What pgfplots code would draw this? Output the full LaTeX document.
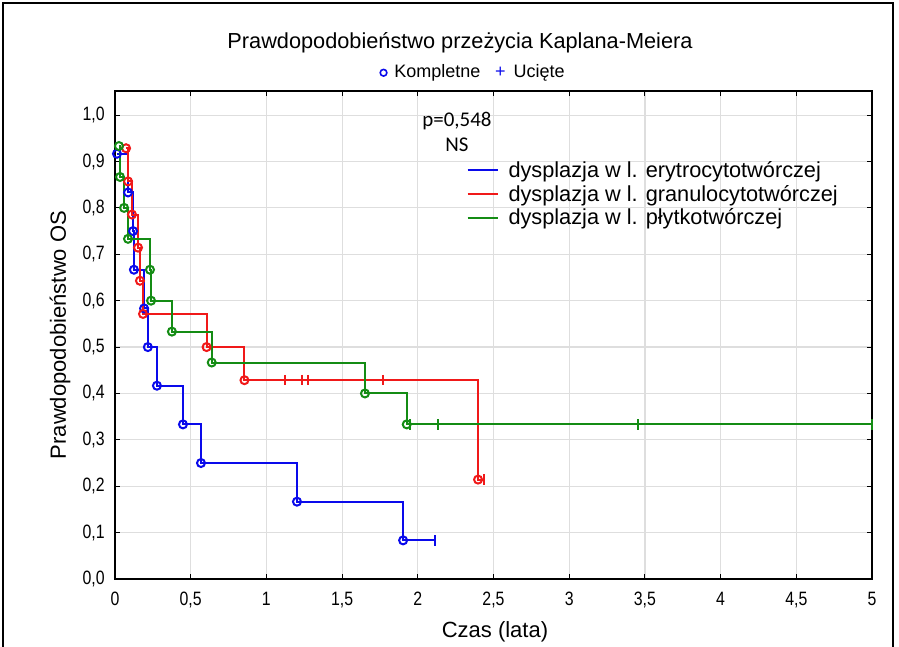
\documentclass[border=0pt]{standalone}
\usepackage{fontspec}
\setmainfont{Liberation Sans}
\newfontfamily\narrowfont[FakeStretch=0.82]{Liberation Sans}
\newfontfamily\calfont{Carlito}
\usepackage{pgfplots}
\pgfplotsset{compat=1.18}
\usepackage{pgfplotstable}

\definecolor{kmblue}{RGB}{10,10,235}
\definecolor{kmred}{RGB}{240,25,25}
\definecolor{kmgreen}{RGB}{20,140,20}

% Kaplan-Meier steps: time (years), survival
\pgfplotstableread{
t s
0.013 0.9167
0.086 0.8333
0.119 0.7500
0.125 0.6667
0.192 0.5833
0.217 0.5000
0.277 0.4167
0.449 0.3333
0.568 0.2500
1.202 0.1667
1.903 0.0833
2.114 0.0833
}\erytro
\pgfplotstableread{
t s
0.013 0.9167
0.086 0.8333
0.119 0.7500
0.125 0.6667
0.192 0.5833
0.217 0.5000
0.277 0.4167
0.449 0.3333
0.568 0.2500
1.202 0.1667
1.903 0.0833
}\erytroEv
\pgfplotstableread{
t s
2.114 0.0833
}\erytroCens

\pgfplotstableread{
t s
0.073 0.9286
0.086 0.8571
0.112 0.7857
0.152 0.7143
0.165 0.6429
0.185 0.5714
0.605 0.5000
0.855 0.4286
2.398 0.2143
2.440 0.2143
}\granulo
\pgfplotstableread{
t s
0.073 0.9286
0.086 0.8571
0.112 0.7857
0.152 0.7143
0.165 0.6429
0.185 0.5714
0.605 0.5000
0.855 0.4286
2.398 0.2143
}\granuloEv
\pgfplotstableread{
t s
1.123 0.4286
1.233 0.4286
1.277 0.4286
1.772 0.4286
2.440 0.2143
}\granuloCens

\pgfplotstableread{
t s
0.026 0.9333
0.033 0.8667
0.060 0.8000
0.086 0.7333
0.231 0.6667
0.238 0.6000
0.376 0.5333
0.639 0.4667
1.651 0.4000
1.927 0.3333
5.000 0.3333
}\plytko
\pgfplotstableread{
t s
0.026 0.9333
0.033 0.8667
0.060 0.8000
0.086 0.7333
0.231 0.6667
0.238 0.6000
0.376 0.5333
0.639 0.4667
1.651 0.4000
1.927 0.3333
}\plytkoEv
\pgfplotstableread{
t s
1.948 0.3333
2.131 0.3333
3.454 0.3333
5.000 0.3333
}\plytkoCens

\begin{document}
\begin{tikzpicture}
\useasboundingbox (0,0) rectangle (674.25pt,484.5pt);
% outer frame
\draw[line width=1pt] (2.25pt,-5pt) -- (2.25pt,482.25pt) -- (669.75pt,482.25pt) -- (669.75pt,-5pt);

\node[font=\fontsize{16.3}{19}\selectfont] at (345pt,452.25pt) {Prawdopodobieństwo przeżycia Kaplana-Meiera};
\node[font=\fontsize{13.5}{16}\selectfont] at (354pt,429.5pt)
  {\textcolor{kmblue}{\tikz[baseline=-0.55ex]\draw[line width=1.2pt] (0,0) circle (2.5pt);}\hspace{5pt}Kompletne\hspace{11pt}\textcolor{kmblue}{+}\hspace{6pt}Ucięte};

\node[font=\fontsize{16.5}{19}\selectfont] at (371.25pt,10.5pt) {Czas (lata)};
\node[font=\fontsize{16.5}{19}\selectfont, rotate=90] at (45pt,233.25pt) {Prawdopodobieństwo OS};

\begin{axis}[
  at={(86.25pt,50.25pt)}, anchor=south west,
  width=567.75pt, height=366pt, scale only axis,
  xmin=0, xmax=5, ymin=0, ymax=1.052,
  xtick={0,0.5,1,1.5,2,2.5,3,3.5,4,4.5,5},
  xticklabels={0,{0,5},1,{1,5},2,{2,5},3,{3,5},4,{4,5},5},
  ytick={0,0.1,0.2,0.3,0.4,0.5,0.6,0.7,0.8,0.9,1.0},
  yticklabels={{0,0},{0,1},{0,2},{0,3},{0,4},{0,5},{0,6},{0,7},{0,8},{0,9},{1,0}},
  xtick pos=both, ytick pos=both,
  xticklabel pos=lower, yticklabel pos=left,
  tick align=inside, major tick length=3.5pt,
  tick style={black, line width=0.8pt},
  grid=major, major grid style={black!13, line width=0.9pt},
  axis line style={line width=0.9pt},
  ticklabel style={font=\narrowfont\fontsize{14.5}{17}\selectfont},
  xticklabel style={yshift=-6pt},
  yticklabel style={xshift=-4.2pt},
  clip=false,
  legend style={at={(axis cs:2.32,0.905)}, anchor=north west, draw=none, fill=none,
    font=\fontsize{16.3}{18}\selectfont, row sep=1.2pt, column sep=6pt, inner sep=0pt,
    nodes={inner sep=1.5pt, anchor=west}},
  legend cell align=left,
  legend image code/.code={\draw[#1,mark=none] (0pt,0pt) -- (22.5pt,0pt);},
  every axis plot/.append style={line width=1.5pt},
]
\addplot[kmblue, const plot, mark=none] table[x=t,y=s] {\erytro};
\addlegendentry{dysplazja w l. erytrocytotwórczej}
\addplot[kmred, const plot, mark=none] table[x=t,y=s] {\granulo};
\addlegendentry{dysplazja w l. granulocytotwórczej}
\addplot[kmgreen, const plot, mark=none] table[x=t,y=s] {\plytko};
\addlegendentry{dysplazja w l. płytkotwórczej}

\addplot[kmblue, only marks, mark=o, mark size=3pt, forget plot] table[x=t,y=s] {\erytroEv};
\addplot[kmred, only marks, mark=o, mark size=3pt, forget plot] table[x=t,y=s] {\granuloEv};
\addplot[kmgreen, only marks, mark=o, mark size=3pt, forget plot] table[x=t,y=s] {\plytkoEv};

\addplot[kmblue, only marks, mark=|, mark size=3.9pt, forget plot] table[x=t,y=s] {\erytroCens};
\addplot[kmred, only marks, mark=|, mark size=3.9pt, forget plot] table[x=t,y=s] {\granuloCens};
\addplot[kmgreen, only marks, mark=|, mark size=3.9pt, forget plot] table[x=t,y=s] {\plytkoCens};
\end{axis}

% test statistic, set above the grid
\node[font=\calfont\fontsize{15.7}{18}\selectfont] at (342.75pt,394pt) {p=0,548};
\node[font=\calfont\fontsize{15.7}{18}\selectfont] at (342.75pt,375.75pt) {NS};
\end{tikzpicture}
\end{document}
